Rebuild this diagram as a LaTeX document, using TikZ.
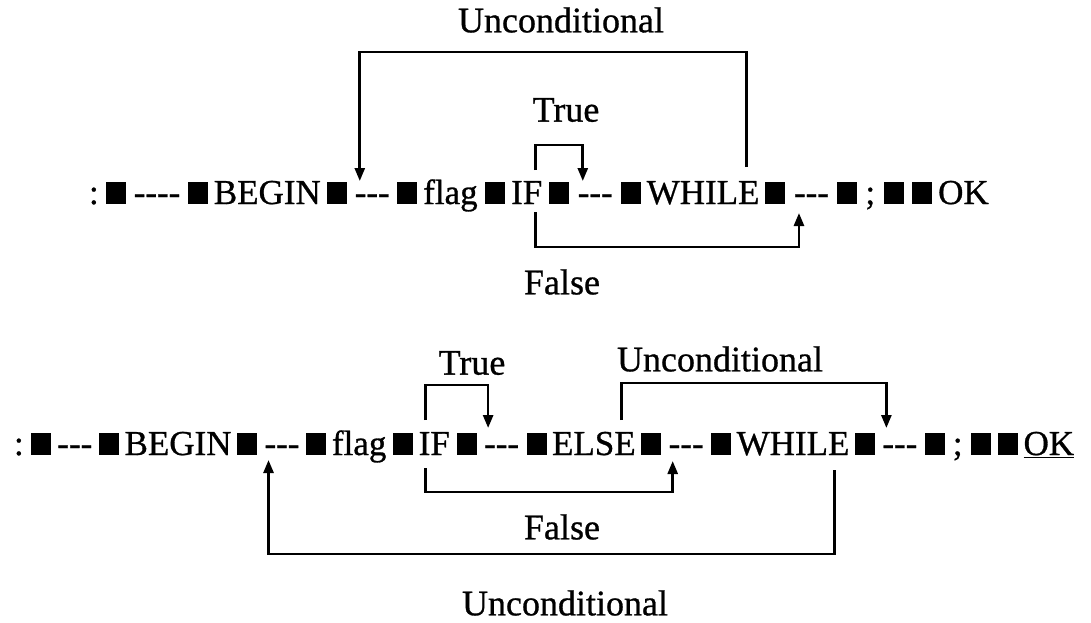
\documentclass[tikz,border=0pt]{standalone}
\usepackage{fontspec}
\setmainfont{Liberation Serif}[FakeBold=0.8]
\usetikzlibrary{arrows.meta}
\newcommand\dsh{-{}-{}-}
\newcommand\blk{\rule{20pt}{22pt}}
\tikzset{
 tok/.style={inner sep=0pt,outer sep=0pt,anchor=base west,font=\fontsize{35}{40}\selectfont},
 lbl/.style={inner sep=0pt,font=\fontsize{36}{40}\selectfont},
 arr/.style={line width=2.6pt,-{Triangle[length=13pt,width=10pt]}},
}
% \chaintok{name}{previous}{gap}{text}
\newcommand\chaintok[4]{\node[tok] (#1) at ([xshift=#3]#2.base east) {#4};}
\begin{document}
\begin{tikzpicture}[x=1pt,y=-1pt]
\useasboundingbox (0,0) rectangle (1091,623);
% ---------------- row 1 (baseline 204)
\node[tok] (a1) at (89,204) {:};
\chaintok{a2}{a1}{7.5pt}{\blk}
\chaintok{a3}{a2}{7.5pt}{-{}-{}-{}-}
\chaintok{a4}{a3}{7.5pt}{\blk}
\chaintok{a5}{a4}{6pt}{BEGIN}
\chaintok{a6}{a5}{6pt}{\blk}
\chaintok{a7}{a6}{8pt}{\dsh}
\chaintok{a8}{a7}{7.5pt}{\blk}
\chaintok{a9}{a8}{6pt}{flag}
\chaintok{a10}{a9}{7.5pt}{\blk}
\chaintok{a11}{a10}{6pt}{IF}
\chaintok{a12}{a11}{7pt}{\blk}
\chaintok{a13}{a12}{8.5pt}{\dsh}
\chaintok{a14}{a13}{8pt}{\blk}
\chaintok{a15}{a14}{6pt}{WHILE}
\chaintok{a16}{a15}{6pt}{\blk}
\chaintok{a17}{a16}{8.5pt}{\dsh}
\chaintok{a18}{a17}{8pt}{\blk}
\chaintok{a19}{a18}{8.5pt}{;}
\chaintok{a20}{a19}{8.5pt}{\blk}
\chaintok{a21}{a20}{8.5pt}{\blk}
\chaintok{a22}{a21}{6pt}{OK}
% connectors row 1
\foreach \v in {52,145,167,170,181,212,213,247}{\coordinate (y\v) at (0,\v);}
\coordinate (u1r) at ([xshift=-13pt]a15.east);
\coordinate (u1l) at ([xshift=5pt]a7.west);
\coordinate (if1) at ([xshift=-7pt]a11.east);
\coordinate (t1r) at ([xshift=5pt]a13.west);
\coordinate (f1r) at ([xshift=5pt]a17.west);
\draw[arr] (u1r |- y167) -- (u1r |- y52) -- (u1l |- y52) -- (u1l |- y181);
\draw[arr] (if1 |- y170) -- (if1 |- y145) -- (t1r |- y145) -- (t1r |- y181);
\draw[arr] (if1 |- y212) -- (if1 |- y247) -- (f1r |- y247) -- (f1r |- y213);
\node[lbl] (L1) at (561,20) {Unconditional};
\node[lbl] (L2) at (566,110) {True};
\node[lbl] (L3) at (562,282) {False};
% ---------------- row 2 (baseline 455)
\node[tok] (b1) at (14,455) {:};
\chaintok{b2}{b1}{6.8pt}{\blk}
\chaintok{b3}{b2}{6.8pt}{\dsh}
\chaintok{b4}{b3}{6.8pt}{\blk}
\chaintok{b5}{b4}{5.5pt}{BEGIN}
\chaintok{b6}{b5}{5.5pt}{\blk}
\chaintok{b7}{b6}{7.5pt}{\dsh}
\chaintok{b8}{b7}{7pt}{\blk}
\chaintok{b9}{b8}{5.5pt}{flag}
\chaintok{b10}{b9}{6.8pt}{\blk}
\chaintok{b11}{b10}{5.5pt}{IF}
\chaintok{b12}{b11}{6.8pt}{\blk}
\chaintok{b13}{b12}{7.5pt}{\dsh}
\chaintok{b14}{b13}{7.5pt}{\blk}
\chaintok{b15}{b14}{5.5pt}{ELSE}
\chaintok{b16}{b15}{5.5pt}{\blk}
\chaintok{b17}{b16}{7.5pt}{\dsh}
\chaintok{b18}{b17}{7.5pt}{\blk}
\chaintok{b19}{b18}{5.5pt}{WHILE}
\chaintok{b20}{b19}{5.5pt}{\blk}
\chaintok{b21}{b20}{7.5pt}{\dsh}
\chaintok{b22}{b21}{7.5pt}{\blk}
\chaintok{b23}{b22}{8pt}{;}
\chaintok{b24}{b23}{8pt}{\blk}
\chaintok{b25}{b24}{7.5pt}{\blk}
\chaintok{b26}{b25}{5.5pt}{\underline{OK}}
% connectors row 2
\foreach \v in {383,385,420,428,460,461,468,470,492,554}{\coordinate (y\v) at (0,\v);}
\coordinate (if2) at ([xshift=7pt]b11.west);
\coordinate (t2r) at ([xshift=4pt]b13.west);
\coordinate (e2) at ([xshift=-14pt]b15.east);
\coordinate (u2r) at ([xshift=4pt]b21.west);
\coordinate (f2r) at ([xshift=4pt]b17.west);
\coordinate (w2) at ([xshift=-15pt]b19.east);
\coordinate (bg2) at ([xshift=4pt]b7.west);
\draw[arr] (if2 |- y420) -- (if2 |- y385) -- (t2r |- y385) -- (t2r |- y428);
\draw[arr] (e2 |- y420) -- (e2 |- y383) -- (u2r |- y383) -- (u2r |- y428);
\draw[arr] (if2 |- y468) -- (if2 |- y492) -- (f2r |- y492) -- (f2r |- y461);
\draw[arr] (w2 |- y470) -- (w2 |- y554) -- (bg2 |- y554) -- (bg2 |- y460);
\node[lbl] (L4) at (472,363) {True};
\node[lbl] (L5) at (720,359) {Unconditional};
\node[lbl] (L6) at (562,527) {False};
\node[lbl] (L7) at (565,603) {Unconditional};
\end{tikzpicture}
\end{document}
